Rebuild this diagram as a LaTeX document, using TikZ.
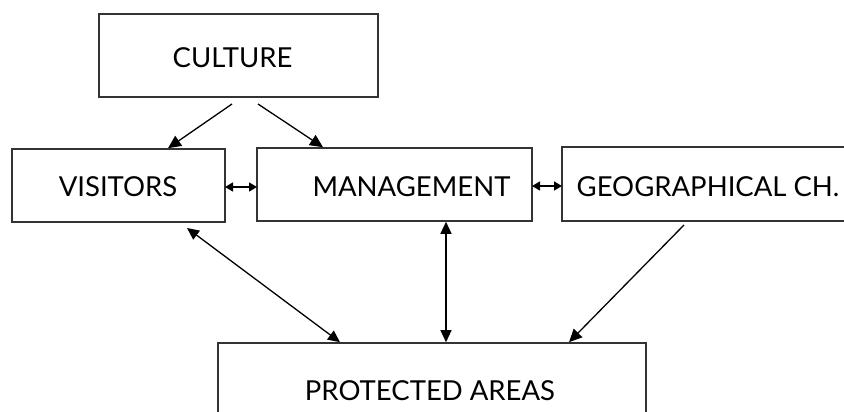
\documentclass[tikz,border=0pt]{standalone}
\usepackage{fontspec}
\setmainfont{Lato}
\usetikzlibrary{arrows.meta}
\begin{document}
\begin{tikzpicture}[x=1pt,y=-1pt,
 box/.style={draw=black!80,line width=1.6pt,inner sep=0pt},
 lbl/.style={font=\fontsize{27.5}{32}\selectfont,inner sep=0pt,anchor=center},
 arr/.style={line width=1.3pt,-{Triangle[length=13pt,width=12pt]}},
 darr/.style={line width=1.3pt,{Triangle[length=12pt,width=11pt]}-{Triangle[length=12pt,width=11pt]}},
 sarr/.style={line width=1.4pt,{Triangle[length=8pt,width=9pt]}-{Triangle[length=8pt,width=9pt]}}]
\useasboundingbox (0,0) rectangle (844,412);
\node[box,minimum width=279pt,minimum height=83pt] (c) at (238.5,55.5) {};
\node[box,minimum width=213pt,minimum height=73pt] (v) at (118.5,185.5) {};
\node[box,minimum width=275pt,minimum height=73pt] (m) at (394.5,184.5) {};
\node[box,minimum width=286pt,minimum height=74pt] (g) at (705,184) {};
\node[box,minimum width=428pt,minimum height=77pt] (p) at (432,381.5) {};
\node[lbl] (ct) at (232.5,57.5) {CULTURE};
\node[lbl] (vt) at (118,186.5) {VISITORS};
\node[lbl] (mt) at (411.5,187) {MANAGEMENT};
\node[lbl] (gt) at (708,186.5) {GEOGRAPHICAL CH.};
\node[lbl] (pt) at (430,390.5) {PROTECTED AREAS};
\coordinate (cv0) at (232,104);
\coordinate (cm0) at (258,104);
\coordinate (vp0) at (187,228);
\coordinate (gp0) at (684,225);
\draw[arr] (cv0) -- (168,0 |- v.north);
\draw[arr] (cm0) -- (323,0 |- m.north);
\draw[sarr] (225,187) -- (257,187);
\draw[sarr] (532,186) -- (562,186);
\draw[darr] (vp0) -- (340,0 |- p.north);
\draw[darr] (446,0 |- m.south) -- (446,0 |- p.north);
\draw[arr] (gp0) -- (569,0 |- p.north);
\end{tikzpicture}
\end{document}
